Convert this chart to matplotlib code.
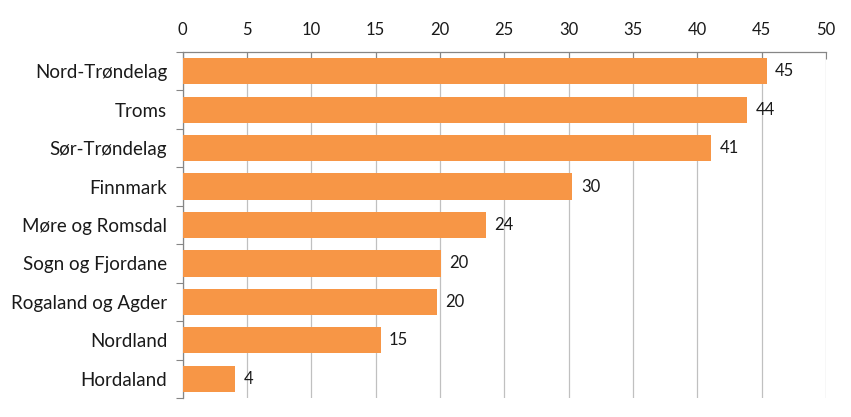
import matplotlib as mpl
mpl.use('Agg')
import matplotlib.pyplot as plt

regions = ['Nord-Trøndelag', 'Troms', 'Sør-Trøndelag', 'Finnmark', 'Møre og Romsdal',
           'Sogn og Fjordane', 'Rogaland og Agder', 'Nordland', 'Hordaland']
values = [45.4, 43.9, 41.1, 30.3, 23.6, 20.1, 19.8, 15.4, 4.1]
xticks = [0, 5, 10, 15, 20, 25, 30, 35, 40, 45, 50]

plt.rcParams['font.family'] = ['Lato', 'DejaVu Sans']

fig = plt.figure(figsize=(8.51, 4.17), dpi=100)
ax = fig.add_axes([0.2145, 0.0456, 0.7561, 0.8297])

pos = list(range(len(regions)))
ax.barh(pos, values, height=0.68, color='#F79646', zorder=3)
for p, v in zip(pos, values):
    ax.annotate('%d' % round(v), (v, p), xytext=(6, 0), textcoords='offset points',
                va='center', ha='left', fontsize=12, color='#1a1a1a')

ax.set_xlim(0, 50)
ax.set_ylim(len(regions) - 0.5, -0.5)
ax.set_xticks(xticks)
ax.xaxis.tick_top()
ax.tick_params(axis='x', length=5, width=0.8, color='#868686', labelsize=12,
               labelcolor='#1a1a1a', direction='in', pad=10)
ax.set_yticks(pos)
ax.set_yticklabels(regions, fontsize=13.5, color='#1a1a1a')
ax.set_yticks([p + 0.5 for p in [-1] + pos], minor=True)
ax.tick_params(axis='y', which='major', length=0, pad=11)
ax.tick_params(axis='y', which='minor', length=5, width=0.8, color='#868686')
ax.grid(axis='x', color='#C0C0C0', linewidth=0.9, zorder=0)

for s in ['right', 'bottom']:
    ax.spines[s].set_visible(False)
for s in ['top', 'left']:
    ax.spines[s].set_color('#868686')
    ax.spines[s].set_linewidth(0.9)

plt.savefig('out.png')
plt.close()
